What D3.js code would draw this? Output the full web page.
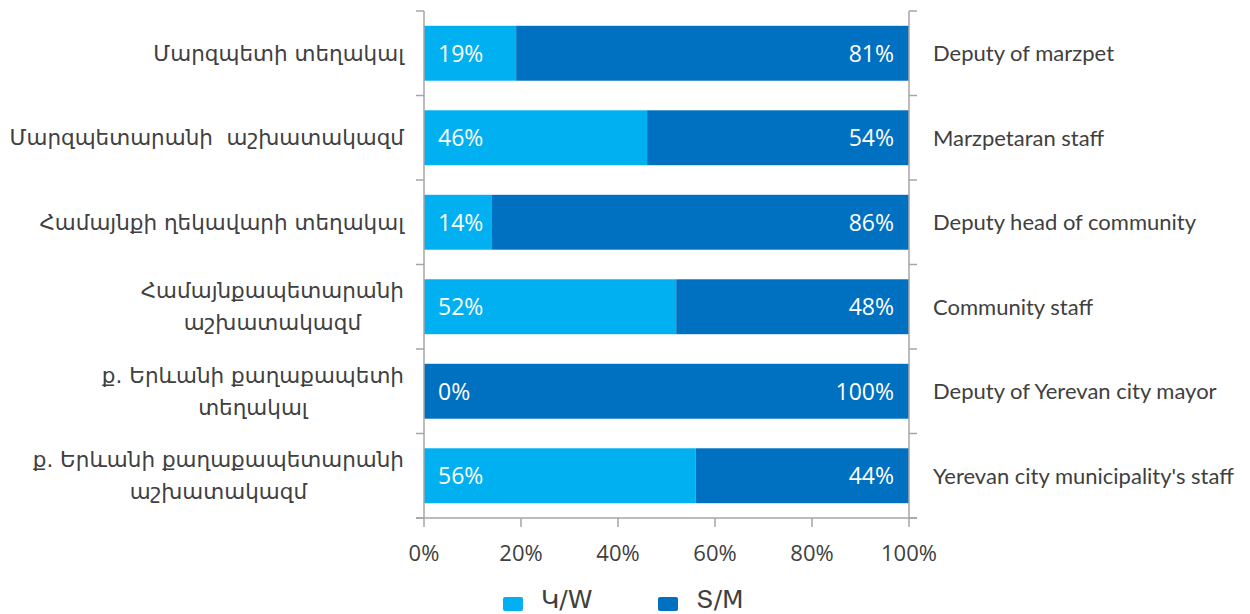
<!DOCTYPE html>
<html>
<head>
<meta charset="utf-8">
<script src="https://cdn.jsdelivr.net/npm/d3@7"></script>
<style>
  html, body { margin: 0; padding: 0; background: #fff; }
  svg { display: block; }
</style>
</head>
<body>
<svg id="chart" width="1250" height="614"></svg>
<script>
const categoriesHy = [
  ["Մարզպետի տեղակալ"],
  ["Մարզպետարանի  աշխատակազմ"],
  ["Համայնքի ղեկավարի տեղակալ"],
  ["Համայնքապետարանի", "աշխատակազմ"],
  ["ք. Երևանի քաղաքապետի", "տեղակալ"],
  ["ք. Երևանի քաղաքապետարանի", "աշխատակազմ"]
];
const categoriesEn = [
  "Deputy of marzpet",
  "Marzpetaran staff",
  "Deputy head of community",
  "Community staff",
  "Deputy of Yerevan city mayor",
  "Yerevan city municipality's staff"
];
const women = [19, 46, 14, 52, 0, 56];
const men = [81, 54, 86, 48, 100, 44];
const seriesNames = ["Կ/W", "Տ/M"];
const xTicks = [0, 20, 40, 60, 80, 100];

const colors = ["#00B0F0", "#0070C0"];
const axisColor = "#A6A6A6";
const textColor = "#404040";

const svg = d3.select("#chart");
const idx = d3.range(categoriesEn.length);

const x = d3.scaleLinear().domain([0, 100]).range([424, 909]);
const y = d3.scaleBand().domain(idx).range([11, 518]).paddingInner(0.35).paddingOuter(0.175);

const stackData = idx.map(i => ({ i, w: women[i], m: men[i] }));
const stack = d3.stack().keys(["w", "m"])(stackData);

// bars
const g = svg.append("g");
stack.forEach((layer, k) => {
  g.selectAll(".b" + k).data(layer).join("rect")
    .attr("x", d => x(d[0]))
    .attr("y", d => y(d.data.i))
    .attr("width", d => x(d[1]) - x(d[0]))
    .attr("height", y.bandwidth())
    .attr("fill", colors[k]);
});

// value labels
const valFont = "'Open Sans', sans-serif";
g.selectAll(".vw").data(stackData).join("text")
  .attr("x", x(0) + 14)
  .attr("y", d => y(d.i) + y.bandwidth() / 2)
  .attr("dy", "0.36em")
  .attr("fill", "#fff")
  .style("font-family", valFont)
  .style("font-size", "23px")
  .text(d => d.w + "%");
g.selectAll(".vm").data(stackData).join("text")
  .attr("x", x(100) - 15)
  .attr("y", d => y(d.i) + y.bandwidth() / 2)
  .attr("dy", "0.36em")
  .attr("text-anchor", "end")
  .attr("fill", "#fff")
  .style("font-family", valFont)
  .style("font-size", "23px")
  .text(d => d.m + "%");

// axes
const step = y.step();
const bounds = d3.range(categoriesEn.length + 1).map(k => 11 + k * step);
const ax = svg.append("g").attr("stroke", axisColor).attr("stroke-width", 1.5).attr("fill", "none");
ax.append("line").attr("x1", x(0)).attr("x2", x(0)).attr("y1", 11).attr("y2", 518);
ax.append("line").attr("x1", x(100)).attr("x2", x(100)).attr("y1", 11).attr("y2", 518);
ax.append("line").attr("x1", x(0) - 8).attr("x2", x(100) + 8).attr("y1", 518).attr("y2", 518);
ax.selectAll(".tl").data(bounds).join("line")
  .attr("x1", x(0) - 8).attr("x2", x(0)).attr("y1", d => d).attr("y2", d => d);
ax.selectAll(".tr").data(bounds).join("line")
  .attr("x1", x(100)).attr("x2", x(100) + 8).attr("y1", d => d).attr("y2", d => d);
ax.selectAll(".tb").data(xTicks).join("line")
  .attr("x1", d => x(d)).attr("x2", d => x(d)).attr("y1", 518).attr("y2", 527);

// x tick labels
svg.selectAll(".xl").data(xTicks).join("text")
  .attr("x", d => x(d))
  .attr("y", 561)
  .attr("text-anchor", "middle")
  .attr("fill", textColor)
  .style("font-family", valFont)
  .style("font-size", "22px")
  .text(d => d + "%");

// left labels (Armenian)
const hyFont = "'DejaVu Sans', sans-serif";
idx.forEach(i => {
  const lines = categoriesHy[i];
  const t = svg.append("text")
    .attr("fill", textColor)
    .attr("text-anchor", "middle")
    .style("font-family", hyFont)
    .style("font-size", "21.5px")
    .style("white-space", "pre");
  const cy = y(i) + y.bandwidth() / 2;
  const lh = 32;
  const spans = lines.map((s, j) => t.append("tspan")
    .attr("y", cy + (j - (lines.length - 1) / 2) * lh)
    .attr("dy", "0.36em")
    .text(s));
  const maxW = d3.max(spans, sp => sp.node().getComputedTextLength());
  spans.forEach(sp => sp.attr("x", 404 - maxW / 2));
});

// right labels (English)
svg.selectAll(".rl").data(idx).join("text")
  .attr("x", 933)
  .attr("y", i => y(i) + y.bandwidth() / 2)
  .attr("dy", "0.36em")
  .attr("fill", textColor)
  .style("font-family", "Lato, sans-serif")
  .style("font-size", "22px")
  .text(i => categoriesEn[i]);

// legend
const legX = [503, 658];
seriesNames.forEach((name, k) => {
  svg.append("rect")
    .attr("x", legX[k]).attr("y", 597)
    .attr("width", 20).attr("height", 14)
    .attr("rx", 2)
    .attr("fill", colors[k]);
  svg.append("text")
    .attr("x", legX[k] + 38)
    .attr("y", 608)
    .attr("fill", textColor)
    .style("font-family", "'DejaVu Sans', sans-serif")
    .style("font-size", "25px")
    .text(name);
});
</script>
</body>
</html>
